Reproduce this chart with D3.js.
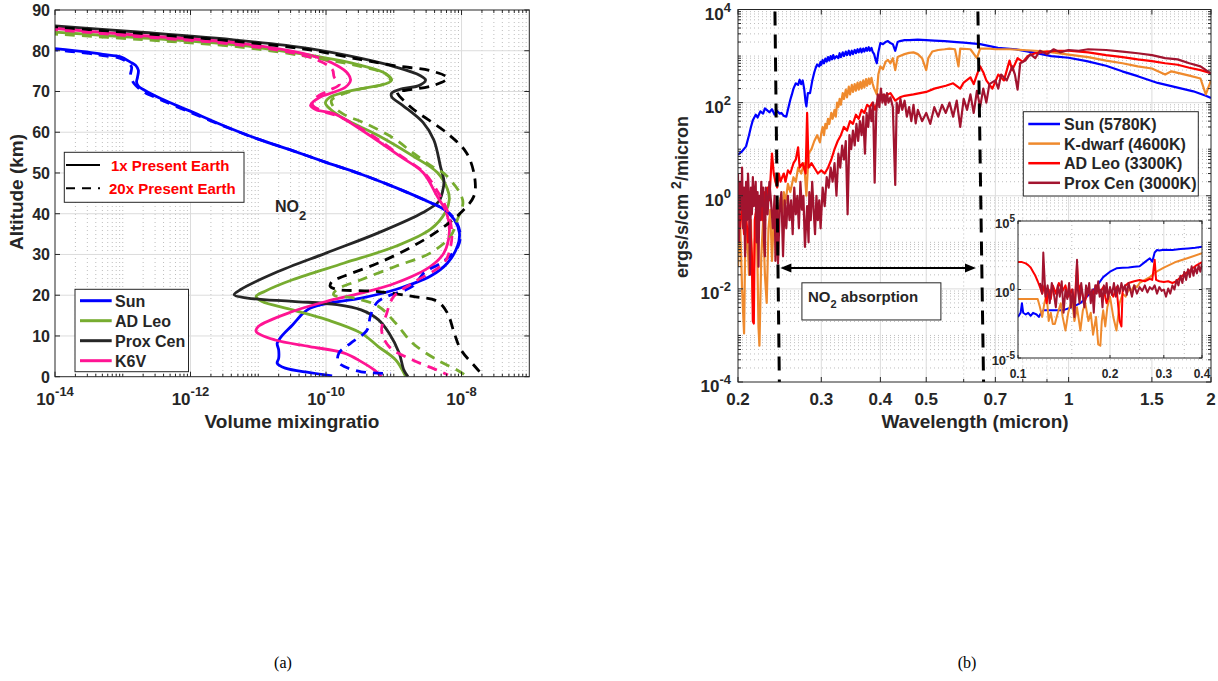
<!DOCTYPE html>
<html><head><meta charset="utf-8">
<script src="https://cdn.jsdelivr.net/npm/d3@7"></script>
<style>
body{margin:0;background:#fff}
text{font-family:"Liberation Sans",Arial,sans-serif;font-weight:bold;fill:#262626}
</style></head>
<body><svg id="c" width="1218" height="681"></svg>
<script>
// ---------------- LEFT PANEL DATA (altitude km, NO2 volume mixing ratio) ----------------
const sunSolidAlt=[80.7,79.7,79.1,78.5,77.2,76.4,75.2,73.5,72.3,71.3,70.3,68.2,65.3,61.6,58.3,55.5,52.6,49.7,46.4,42.7,41.1,38.6,35.3,32.0,27.9,24.7,21.4,19.3,18.1,16.8,15.6,12.7,9.9,8.2,6.6,4.5,3.3,2.1,1.0,0.2];
const sunSolidVmr=[7.9e-15,2.9e-14,5.1e-14,9.3e-14,1.3e-13,1.55e-13,1.7e-13,1.65e-13,1.6e-13,1.7e-13,2.1e-13,3.7e-13,9.5e-13,3.1e-12,1.0e-11,3.2e-11,1.0e-10,3.3e-10,1.07e-9,3.5e-9,5.5e-9,7.8e-9,9.3e-9,8.7e-9,6.2e-9,3.5e-9,1.07e-9,3.3e-10,1.15e-10,5.8e-11,4.6e-11,3.2e-11,2.2e-11,1.9e-11,2.0e-11,2.0e-11,1.9e-11,2.5e-11,5.8e-11,1.23e-10];
const sunDashAlt=[80.4,79.4,78.8,78.2,77.0,76.0,74.0,72.5,71.5,70.0,68.0,65.0,61.5,58.3,55.5,52.6,49.7,46.4,42.7,41.1,38.6,35.3,32.0,28.3,25.5,22.2,18.5,14.8,12.0,10.7,8.2,5.8,3.7,2.5,1.2,0.8];
const sunDashVmr=[7.9e-15,2.9e-14,5.1e-14,9.0e-14,1.2e-13,1.35e-13,1.3e-13,1.4e-13,1.55e-13,2.0e-13,3.6e-13,9.5e-13,3.1e-12,1.0e-11,3.2e-11,1.0e-10,3.3e-10,1.07e-9,3.5e-9,5.6e-9,8.0e-9,9.5e-9,8.9e-9,5.4e-9,2.8e-9,1.9e-9,5.9e-10,4.5e-10,4.2e-10,3.7e-10,2.3e-10,1.55e-10,1.5e-10,1.86e-10,3.3e-10,8.9e-10];
const adLeoSolidAlt=[84.7,83.2,81.3,78.9,76.4,74.4,72.8,71.9,70.7,69.8,68.6,67.2,65.7,63.3,59.2,54.2,50.1,46.0,43.5,40.3,36.2,32.0,27.9,23.8,21.0,19.7,18.5,16.4,14.0,10.7,7.4,4.1,0];
const adLeoSolidVmr=[7.9e-15,1.66e-13,5.5e-12,5.75e-11,3.3e-10,7.6e-10,9.3e-10,7.6e-10,3.3e-10,1.86e-10,1.15e-10,9.8e-11,1.15e-10,1.86e-10,5.9e-10,1.9e-9,4.4e-9,6.2e-9,6.6e-9,5.75e-9,3.5e-9,1.07e-9,1.86e-10,3.2e-11,1.26e-11,9.3e-12,1.12e-11,3.2e-11,1.02e-10,3.3e-10,5.9e-10,1.07e-9,1.5e-9];
const adLeoDashAlt=[84.2,82.8,80.9,78.5,76.1,74.3,73.0,71.8,70.4,69.2,67.8,66.5,64.5,62.0,58.5,55.0,51.2,49.9,47.0,45.0,42.7,38.6,34.5,30.4,27.1,23.8,21.4,20.1,19.3,17.3,13.1,8.2,4.1,1.6,0];
const adLeoDashVmr=[7.9e-15,1.66e-13,5.5e-12,5.75e-11,3.3e-10,7.6e-10,8.9e-10,7.1e-10,2.8e-10,1.66e-10,1.2e-10,1.26e-10,1.78e-10,4.0e-10,1.0e-9,1.9e-9,4.0e-9,5.5e-9,7.9e-9,9.5e-9,1.05e-8,8.7e-9,6.9e-9,3.5e-9,1.07e-9,3.3e-10,1.45e-10,1.29e-10,2.6e-10,5.9e-10,1.07e-9,1.9e-9,4.4e-9,8.7e-9,1.23e-8];
const proxSolidAlt=[86.2,84.6,82.5,80.5,78.1,76.0,74.0,72.8,71.5,70.7,69.6,68.7,66.6,62.4,58.1,51.5,48.0,45.5,43.0,40.3,35.3,30.4,25.5,21.4,20.1,19.3,18.5,17.7,16.4,14.0,10.7,5.8,1.6,0];
const proxSolidVmr=[7.9e-15,1.66e-13,5.5e-12,5.75e-11,3.3e-10,1.07e-9,2.4e-9,2.95e-9,2.4e-9,1.35e-9,9.3e-10,9.3e-10,1.35e-9,2.7e-9,3.9e-9,4.9e-9,5.5e-9,5.25e-9,4.6e-9,2.7e-9,5.9e-10,1.02e-10,1.78e-11,5.5e-12,4.4e-12,6.9e-12,3.2e-11,1.45e-10,3.3e-10,5.9e-10,8.5e-10,1.2e-9,1.41e-9,1.62e-9];
const proxDashAlt=[85.9,84.3,82.2,80.2,77.8,76.3,75.1,73.3,71.5,70.3,70.0,66.3,59.7,54.8,48.3,44.2,40.3,36.2,32.0,27.9,24.7,23.4,22.2,21.5,20.9,19.7,18.5,15.6,10.7,6.6,2.5,0.2];
const proxDashVmr=[7.9e-15,1.66e-13,5.5e-12,5.75e-11,3.3e-10,1.07e-9,3.5e-9,6.2e-9,3.9e-9,1.5e-9,1.12e-9,1.74e-9,6.2e-9,1.2e-8,1.58e-8,1.51e-8,9.8e-9,4.9e-9,1.9e-9,5.9e-10,1.86e-10,1.23e-10,1.15e-10,1.38e-10,5.9e-10,1.9e-9,4.4e-9,6.2e-9,7.8e-9,9.8e-9,1.58e-8,2.1e-8];
const k6vSolidAlt=[85.6,83.8,81.8,78.9,76.4,74.4,72.8,71.1,69.8,68.6,66.6,65.5,64.6,59.7,54.0,50.1,44.2,40.3,35.3,30.4,27.1,23.0,20.5,18.5,16.0,12.3,11.1,9.0,7.4,5.8,3.7,1.6,0];
const k6vSolidVmr=[7.9e-15,1.66e-13,5.5e-12,5.75e-11,1.45e-10,2.1e-10,2.3e-10,1.95e-10,1.29e-10,8.1e-11,5.9e-11,7.1e-11,1.29e-10,4.0e-10,1.26e-9,2.7e-9,4.4e-9,6.0e-9,6.6e-9,5.5e-9,3.5e-9,1.07e-9,3.3e-10,1.02e-10,3.2e-11,1.0e-11,9.3e-12,1.78e-11,5.75e-11,1.86e-10,3.3e-10,5.2e-10,6.6e-10];
const k6vDashAlt=[85.3,83.5,81.4,78.4,75.5,73.5,71.8,70.3,68.5,66.8,65.2,63.8,59.5,54.0,50.1,45.0,40.3,35.3,32.0,27.9,23.0,19.7,14.8,11.5,7.4,4.1,1.6,0.4];
const k6vDashVmr=[7.9e-15,1.66e-13,5.5e-12,5.75e-11,1.23e-10,1.32e-10,1.58e-10,1.12e-10,7.1e-11,6.3e-11,8.9e-11,1.58e-10,4.5e-10,1.32e-9,2.8e-9,4.6e-9,6.3e-9,7.2e-9,6.9e-9,5.5e-9,1.9e-9,1.0e-9,7.6e-10,6.6e-10,8.5e-10,1.9e-9,4.4e-9,6.3e-9];

const starNamesLeft=["Sun","AD Leo","Prox Cen","K6V"];
const leftXTickExp=[-14,-12,-10,-8];
const leftYTicks=[0,10,20,30,40,50,60,70,80,90];
const scenarioLabels=["1x Present Earth","20x Present Earth"];

// ---------------- RIGHT PANEL DATA (wavelength micron, flux ergs/s/cm2/micron) ----------------
const sunWl=[0.200,0.204,0.208,0.211,0.213,0.215,0.218,0.220,0.223,0.226,0.228,0.230,0.233,0.236,0.239,0.242,0.245,0.247,0.250,0.253,0.255,0.258,0.260,0.262,0.265,0.268,0.270,0.272,0.274,0.276,0.278,0.279,0.281,0.284,0.287,0.290,0.292,0.294,
0.297,0.299,0.300,0.302,0.304,0.306,0.308,0.310,0.312,0.314,0.316,0.318,0.320,0.323,0.326,0.328,0.330,0.333,0.335,0.338,0.340,0.343,0.345,0.348,0.350,0.353,0.355,0.358,0.360,0.363,0.365,0.368,0.370,0.373,0.375,0.378,0.380,0.383,0.385,0.388,0.390,
0.393,0.396,0.400,0.405,0.410,0.415,0.420,0.425,0.430,0.435,0.440,0.450,0.460,0.480,0.500,0.520,0.547,0.580,0.600,0.650,0.709,0.773,0.850,0.919,1.000,1.092,1.200,1.298,1.400,1.543,1.700,1.835,1.950,2.000];
const sunFlux=[7.6,9,11.5,20,30,42,55,48,65,58,75,70,62,72,55,66,58,60,52,50,70,115,150,200,260,240,310,250,300,200,100,83,160,160,290,450,560,660,
600,750,650,820,700,880,760,950,800,1000,850,1050,880,1000,900,1150,950,1200,1000,1250,1050,1300,1050,1300,1100,1350,1150,1400,1200,1450,1200,1450,1250,1500,1300,1550,1300,1500,1250,1100,900,
700,1200,1900,1800,2000,2100,1900,1800,1300,2000,2100,2200,2200,2250,2200,2150,2100,2000,1950,1800,1500,1400,1170,1000,920,780,620,470,370,265,210,175,140,126];
const kWl=[0.200,0.202,0.204,0.206,0.207,0.209,0.211,0.213,0.215,0.217,0.219,0.221,0.222,0.224,0.226,0.228,0.230,0.232,0.234,0.236,0.238,0.240,0.242,0.244,0.246,0.248,0.250,0.252,0.255,0.258,0.262,0.265,0.268,0.272,0.276,0.279,0.282,0.286,0.290,0.294,
0.298,0.300,0.302,0.304,0.306,0.308,0.310,0.312,0.315,0.317,0.320,0.322,0.324,0.326,0.328,0.330,0.333,0.335,0.338,0.340,0.343,0.345,0.348,0.350,0.353,0.355,0.358,0.360,0.363,0.365,0.368,0.370,0.373,0.375,0.378,0.380,0.383,0.385,0.388,0.390,
0.393,0.396,0.400,0.405,0.410,0.415,0.420,0.425,0.430,0.435,0.440,0.450,0.460,0.470,0.480,0.490,0.500,0.505,0.515,0.530,0.547,0.560,0.575,0.585,0.590,0.620,0.640,0.650,0.680,0.700,0.750,0.800,0.850,0.900,1.000,1.100,1.200,1.300,1.400,1.500,1.600,1.650,1.800,1.900,1.950,2.000];
const kFlux=[0.03,0.3,0.01,0.0011,0.05,0.2,0.02,0.3,0.005,0.1,0.4,0.0015,0.0006,0.05,0.3,0.02,0.005,0.2,0.5,0.04,0.3,0.6,0.15,0.5,0.9,0.4,1.2,0.7,1.8,1.2,2.5,2,4,3,5,1,8,10,15,20,
14,22,30,20,35,28,45,35,60,45,70,50,100,80,120,90,160,120,190,130,220,150,240,170,250,180,270,190,280,200,300,210,320,230,330,250,340,260,200,180,
150,400,600,520,750,830,700,900,500,950,1000,1100,1170,1200,1100,900,500,900,1250,1350,1400,1450,1400,600,1450,1400,900,1450,1450,1400,1400,1350,1300,1250,1070,950,800,700,600,540,400,470,380,330,150,300];
const adLeoWl=[0.200,0.202,0.204,0.206,0.208,0.210,0.212,0.214,0.215,0.216,0.217,0.219,0.221,0.223,0.225,0.227,0.229,0.231,0.233,0.235,0.236,0.238,0.240,0.242,0.244,0.246,0.248,0.250,0.252,0.255,0.258,0.262,0.265,0.268,0.270,0.274,0.278,0.280,0.282,0.286,0.290,0.295,0.300,0.305,0.310,0.315,0.320,0.325,0.330,0.335,0.340,0.345,0.350,0.355,0.360,0.365,0.370,0.375,0.380,0.385,0.390,0.395,0.400,0.410,0.420,0.430,0.440,0.450,0.470,0.500,0.520,0.550,0.570,0.590,0.600,0.620,0.630,0.640,0.650,0.660,0.670,0.690,0.710,0.730,0.750,0.760,0.780,0.800,0.820,0.850,0.900,0.950,1.000,1.100,1.200,1.300,1.400,1.500,1.600,1.700,1.800,1.900,2.000];
const adLeoFlux=[0.5,0.2,0.6,0.15,0.4,0.1,0.3,0.05,0.002,0.0018,0.3,0.6,0.2,0.8,0.3,1.2,0.5,1.5,0.8,4,8,3,2,1.5,3,2,2.5,3,2,3.5,3,5,6,11,4,5,3,60,4,5,4,3,3.5,3,4,6,10,15,20,30,25,40,35,55,45,70,60,90,80,100,70,120,150,140,160,110,130,140,150,170,200,230,260,200,270,350,250,400,600,450,300,200,400,300,800,500,900,750,1000,1150,1250,1300,1300,1200,1050,950,850,780,700,650,560,500,430];
const proxWl=[0.200,0.201,0.202,0.203,0.204,0.205,0.206,0.207,0.208,0.209,0.210,0.211,0.212,0.213,0.214,0.215,0.216,0.218,0.219,0.220,0.221,0.222,0.223,0.224,0.225,0.226,0.227,0.228,0.229,0.231,0.233,0.235,0.237,0.239,0.240,0.242,0.243,0.245,0.247,0.249,0.251,0.253,0.255,0.257,0.259,0.261,0.263,0.265,0.267,0.269,0.271,0.273,0.275,0.277,0.280,0.282,0.283,0.285,0.287,0.289,0.291,0.293,0.295,0.297,0.299,0.302,0.305,0.308,0.311,0.314,0.317,0.320,0.323,0.326,0.329,0.332,0.335,0.338,0.341,0.344,0.347,0.350,0.353,0.356,0.359,0.362,0.365,0.368,0.371,0.374,0.377,0.380,0.383,0.386,0.389,0.392,0.395,0.398,0.401,0.404,0.407,0.410,0.413,0.416,0.420,0.425,0.430,0.433,0.437,0.441,0.445,0.450,0.455,0.460,0.465,0.470,0.475,0.480,0.490,0.500,0.510,0.520,0.530,0.540,0.550,0.560,0.570,0.580,0.590,0.600,0.610,0.620,0.630,0.640,0.650,0.660,0.670,0.680,0.700,0.710,0.720,0.740,0.760,0.770,0.780,0.790,0.810,0.830,0.850,0.870,0.900,0.930,0.960,1.000,1.050,1.100,1.200,1.300,1.400,1.500,1.600,1.700,1.800,1.900,2.000];
const proxFlux=[3,0.1,2,0.5,4,0.2,1.5,0.05,2,0.3,3,0.8,0.02,1.5,0.4,2.5,0.6,2,0.1,1.2,0.03,1,0.3,2,0.6,1.5,0.1,0.05,1.5,0.4,2,0.7,0.2,1,0.04,0.8,0.035,0.5,1.2,0.05,0.8,0.2,1,0.3,0.8,0.15,1.5,0.4,1,0.2,2,0.5,1,0.08,0.6,0.1,1.2,0.3,2,0.5,0.15,1,0.3,0.8,0.2,1.5,0.6,2.5,1.5,4,2,5,1,8,4,12,6,15,0.4,20,10,25,12,35,15,40,20,50,8,60,30,80,40,100,1.9,60,150,80,200,100,150,90,160,100,130,80,1.7,100,60,120,70,110,50,80,40,90,36,70,40,60,35,80,50,90,60,100,50,110,30,120,70,150,60,180,80,200,100,250,300,200,400,300,600,400,190,700,800,1100,900,1300,1100,1400,1200,1350,1300,1400,1350,1250,1150,1050,900,850,700,600,420];

// inset (UV)
const insetSunWl=[0.100,0.102,0.103,0.104,0.106,0.108,0.110,0.112,0.115,0.117,0.119,0.121,0.125,0.130,0.140,0.150,0.160,0.170,0.180,0.190,0.200,0.210,0.220,0.230,0.240,0.250,0.260,0.270,0.275,0.280,0.285,0.290,0.300,0.320,0.340,0.360,0.380,0.400];
const insetSunFlux=[0.01,0.02,0.1,0.02,0.015,0.02,0.012,0.02,0.015,0.01,0.02,0.03,0.03,0.03,0.03,0.05,0.1,0.4,1.5,8,20,35,38,40,45,50,100,190,107,500,760,700,800,760,900,1000,1100,1300];
const insetKWl=[0.100,0.110,0.116,0.118,0.120,0.122,0.124,0.126,0.128,0.130,0.132,0.135,0.138,0.140,0.143,0.146,0.150,0.153,0.156,0.160,0.163,0.166,0.170,0.173,0.176,0.180,0.183,0.186,0.188,0.190,0.193,0.196,0.200,0.205,0.210,0.215,0.220,0.225,0.230,0.235,0.240,0.245,0.250,0.260,0.270,0.284,0.300,0.330,0.360,0.400];
const insetKFlux=[0.2,0.2,0.2,0.05,0.01,0.1,0.5,0.005,0.02,0.003,0.003,0.02,0.1,0.01,0.001,0.02,0.2,0.005,0.05,0.001,0.03,0.1,0.005,0.02,0.0005,0.01,0.0001,0.00008,0.005,0.03,0.002,0.05,0.3,0.01,0.001,0.1,0.5,0.3,1,0.8,2,1.5,3,5,8,20,40,107,200,440];
const insetAdLeoWl=[0.100,0.103,0.106,0.108,0.110,0.112,0.114,0.116,0.118,0.120,0.122,0.124,0.126,0.128,0.130,0.133,0.136,0.140,0.143,0.146,0.150,0.153,0.156,0.158,0.160,0.165,0.170,0.175,0.180,0.185,0.190,0.195,0.200,0.205,0.210,0.215,0.218,0.220,0.225,0.230,0.240,0.250,0.260,0.270,0.275,0.280,0.283,0.290,0.300,0.310,0.320,0.330,0.340,0.360,0.380,0.400];
const insetAdLeoFlux=[100,100,80,60,40,20,10,4,1.5,0.5,2,0.1,1,0.2,2,0.5,3,0.8,2,0.3,1,0.05,80,0.5,2,0.1,1,0.3,2,0.5,1.5,0.1,1,0.3,1.5,0.005,0.002,1,2,3,4,5,4,6,5,150,5,4,3.5,4,3,4,8,20,50,100];
const insetProxWl=[0.118,0.120,0.121,0.123,0.125,0.127,0.129,0.131,0.133,0.135,0.137,0.139,0.141,0.143,0.145,0.147,0.149,0.151,0.153,0.155,0.156,0.157,0.159,0.161,0.163,0.165,0.167,0.169,0.171,0.173,0.175,0.177,0.179,0.181,0.183,0.185,0.187,0.189,0.191,0.193,0.195,0.197,0.200,0.203,0.206,0.209,0.212,0.215,0.218,0.221,0.224,0.227,0.230,0.233,0.236,0.240,0.245,0.250,0.255,0.260,0.265,0.270,0.275,0.280,0.285,0.290,0.295,0.300,0.305,0.310,0.315,0.320,0.325,0.330,0.335,0.340,0.345,0.350,0.355,0.360,0.365,0.370,0.375,0.380,0.385,0.390,0.395,0.400];
const insetProxFlux=[3,0.5,500,0.3,2,0.1,3,0.5,0.05,2,0.3,4,0.02,1,0.2,3,0.05,1,0.01,2,150,1,0.1,3,0.3,0.05,2,0.4,3,0.1,1,0.02,2,0.5,4,0.3,1,0.05,2,0.5,3,0.2,1.5,0.4,3,0.3,2,0.5,3,0.8,2,0.4,3,1,0.3,2,0.5,1.5,0.8,2,0.6,1.5,1,2,0.5,1.5,0.8,1,0.3,1.2,0.5,2,1,5,2,10,3,20,5,30,8,50,10,40,15,60,20,80];

const starNamesRight=["Sun (5780K)","K-dwarf (4600K)","AD Leo (3300K)","Prox Cen (3000K)"];
const rightXTicks=[0.2,0.3,0.4,0.5,0.7,1,1.5,2];
const rightYTickExp=[-4,-2,0,2,4];
const insetXTicks=[0.1,0.2,0.3,0.4];
const insetYTickExp=[-5,0,5];
// NO2 absorption band edges (top, bottom of dashed guide lines) and arrow level
const bandStartWl=[0.2394,0.2446];
const bandEndWl=[0.643,0.661];
const arrowFlux=0.028;

// ---------------- DRAWING ----------------
const svg=d3.select("#c");
const defs=svg.append("defs");
const AX="#262626", MAJ="#dcdcdc", MIN="#bdbdbd";
function clipRect(id,b){defs.append("clipPath").attr("id",id).append("rect").attr("x",b.x0).attr("y",b.y0).attr("width",b.x1-b.x0).attr("height",b.y1-b.y0);}
function expText(g,x,y,e,fs,ss,anchor,up){
  const t=g.append("text").attr("x",x).attr("y",y).attr("text-anchor",anchor).style("font-size",fs+"px");
  t.append("tspan").text("10");
  t.append("tspan").attr("dy",-up).style("font-size",ss+"px").text(String(e));
  return t;
}

// ===== LEFT =====
const L={x0:55,x1:529.3,y0:10,y1:376.7};
clipRect("clipL",L);
const xL=d3.scaleLog().domain([1e-14,1e-7]).range([L.x0,L.x1]);
const yL=d3.scaleLinear().domain([0,90]).range([L.y1,L.y0]);
const gL=svg.append("g");
const minorL=[];
for(let k=-14;k<-7;k++){for(let m=1;m<10;m++){if(m===1&&leftXTickExp.includes(k))continue;minorL.push(m*Math.pow(10,k));}}
gL.selectAll(".mgx").data(minorL).enter().append("line").attr("x1",d=>xL(d)).attr("x2",d=>xL(d)).attr("y1",L.y0).attr("y2",L.y1).attr("stroke",MIN).attr("stroke-width",1).attr("stroke-dasharray","1,3");
gL.selectAll(".Mgx").data(leftXTickExp.slice(1)).enter().append("line").attr("x1",d=>xL(Math.pow(10,d))).attr("x2",d=>xL(Math.pow(10,d))).attr("y1",L.y0).attr("y2",L.y1).attr("stroke",MAJ);
gL.selectAll(".Mgy").data(leftYTicks.slice(1,-1)).enter().append("line").attr("x1",L.x0).attr("x2",L.x1).attr("y1",d=>yL(d)).attr("y2",d=>yL(d)).attr("stroke",MAJ);

const lineL=d3.line().x(d=>xL(d[1])).y(d=>yL(d[0])).curve(d3.curveCatmullRom.alpha(0.5));
const leftSeries=[
 {alt:sunSolidAlt,v:sunSolidVmr,c:"#0000ff",dash:null},
 {alt:adLeoSolidAlt,v:adLeoSolidVmr,c:"#77ac30",dash:null},
 {alt:proxSolidAlt,v:proxSolidVmr,c:"#262626",dash:null},
 {alt:k6vSolidAlt,v:k6vSolidVmr,c:"#ff1493",dash:null},
 {alt:sunDashAlt,v:sunDashVmr,c:"#0000ff",dash:"10,7"},
 {alt:adLeoDashAlt,v:adLeoDashVmr,c:"#77ac30",dash:"10,7"},
 {alt:proxDashAlt,v:proxDashVmr,c:"#000000",dash:"10,7"},
 {alt:k6vDashAlt,v:k6vDashVmr,c:"#ff1493",dash:"10,7"}
];
const gLc=gL.append("g").attr("clip-path","url(#clipL)");
leftSeries.forEach(s=>{
  const pts=s.alt.map((a,i)=>[a,s.v[i]]);
  gLc.append("path").datum(pts).attr("d",lineL).attr("fill","none").attr("stroke",s.c).attr("stroke-width",2.8).attr("stroke-dasharray",s.dash);
});
gL.append("rect").attr("x",L.x0).attr("y",L.y0).attr("width",L.x1-L.x0).attr("height",L.y1-L.y0).attr("fill","none").attr("stroke",AX).attr("stroke-width",1);
minorL.forEach(v=>{[[L.y1,-3],[L.y0,3]].forEach(([y,d])=>gL.append("line").attr("x1",xL(v)).attr("x2",xL(v)).attr("y1",y).attr("y2",y+d).attr("stroke",AX));});
leftXTickExp.forEach(e=>{const v=Math.pow(10,e);[[L.y1,-5],[L.y0,5]].forEach(([y,d])=>gL.append("line").attr("x1",xL(v)).attr("x2",xL(v)).attr("y1",y).attr("y2",y+d).attr("stroke",AX));
  expText(gL,xL(v),405,e,17,13,"middle",9);});
leftYTicks.forEach(t=>{[[L.x0,5],[L.x1,-5]].forEach(([x,d])=>gL.append("line").attr("x1",x).attr("x2",x+d).attr("y1",yL(t)).attr("y2",yL(t)).attr("stroke",AX));
  gL.append("text").attr("x",50).attr("y",yL(t)+6).attr("text-anchor","end").style("font-size","16px").text(t);});
gL.append("text").attr("x",292).attr("y",428).attr("text-anchor","middle").style("font-size","19px").text("Volume mixingratio");
gL.append("text").attr("transform","translate(23,192) rotate(-90)").attr("text-anchor","middle").style("font-size","19px").text("Altitude (km)");
const no2=gL.append("text").attr("x",275).attr("y",212).style("font-size","16px");
no2.append("tspan").text("NO");no2.append("tspan").attr("dy",8).style("font-size","13px").text("2");
const lg1=gL.append("g");
lg1.append("rect").attr("x",64.3).attr("y",152.3).attr("width",179.7).attr("height",50).attr("fill","#fff").attr("stroke",AX);
[[165,null],[188.3,"9,7"]].forEach(([y,d],i)=>{
  lg1.append("line").attr("x1",66).attr("x2",100).attr("y1",y).attr("y2",y).attr("stroke","#000").attr("stroke-width",2).attr("stroke-dasharray",d);
  lg1.append("text").attr("x",i===0?111:109).attr("y",y+5.5).style("font-size","15px").style("fill","#ff0000").text(scenarioLabels[i]);
});
const lg2=gL.append("g");
lg2.append("rect").attr("x",75).attr("y",289.3).attr("width",113.5).attr("height",82.4).attr("fill","#fff").attr("stroke",AX);
const leftCols=["#0000ff","#77ac30","#262626","#ff1493"];
starNamesLeft.forEach((n,i)=>{const y=300.7+i*20;
  lg2.append("line").attr("x1",80).attr("x2",111.7).attr("y1",y).attr("y2",y).attr("stroke",leftCols[i]).attr("stroke-width",3);
  lg2.append("text").attr("x",115).attr("y",y+6).style("font-size","16px").text(n);});

// ===== RIGHT =====
const R={x0:738,x1:1211,y0:9.5,y1:382};
clipRect("clipR",R);
const xR=d3.scaleLog().domain([0.2,2]).range([R.x0,R.x1]);
const yR=d3.scaleLog().domain([1e-4,1e4]).range([R.y1,R.y0]);
const gR=svg.append("g");
const minorRX=[0.6,0.8,0.9];
const minorRY=[];
for(let k=-4;k<4;k++){for(let m=1;m<10;m++){if(m===1&&rightYTickExp.includes(k))continue;minorRY.push(m*Math.pow(10,k));}}
gR.selectAll(".a").data(minorRX).enter().append("line").attr("x1",d=>xR(d)).attr("x2",d=>xR(d)).attr("y1",R.y0).attr("y2",R.y1).attr("stroke",MIN).attr("stroke-dasharray","1,3");
gR.selectAll(".b").data(minorRY).enter().append("line").attr("x1",R.x0).attr("x2",R.x1).attr("y1",d=>yR(d)).attr("y2",d=>yR(d)).attr("stroke",MIN).attr("stroke-dasharray","1,3");
gR.selectAll(".c").data(rightXTicks.slice(1,-1)).enter().append("line").attr("x1",d=>xR(d)).attr("x2",d=>xR(d)).attr("y1",R.y0).attr("y2",R.y1).attr("stroke",MAJ);
gR.selectAll(".d").data(rightYTickExp.slice(1,-1)).enter().append("line").attr("x1",R.x0).attr("x2",R.x1).attr("y1",d=>yR(Math.pow(10,d))).attr("y2",d=>yR(Math.pow(10,d))).attr("stroke",MAJ);

const lineR=d3.line().x(d=>xR(d[0])).y(d=>yR(d[1]));
const rightCols=["#0000ff","#ef8a2d","#ff0000","#a2142f"];
const rightSeries=[[sunWl,sunFlux],[kWl,kFlux],[adLeoWl,adLeoFlux],[proxWl,proxFlux]];
const gRc=gR.append("g").attr("clip-path","url(#clipR)");
rightSeries.forEach((s,i)=>{
  gRc.append("path").datum(s[0].map((w,j)=>[w,s[1][j]])).attr("d",lineR).attr("fill","none").attr("stroke",rightCols[i]).attr("stroke-width",2.2).attr("stroke-linejoin","round");
});
[bandStartWl,bandEndWl].forEach(b=>{
  gRc.append("line").attr("x1",xR(b[0])).attr("x2",xR(b[1])).attr("y1",R.y0+2).attr("y2",R.y1).attr("stroke","#000").attr("stroke-width",3).attr("stroke-dasharray","14,9");
});
const ax1=xR(bandStartWl[1])+1, ax2=xR(0.637), ay=yR(arrowFlux);
gR.append("line").attr("x1",ax1+8).attr("x2",ax2-8).attr("y1",ay).attr("y2",ay).attr("stroke","#000").attr("stroke-width",2);
gR.append("path").attr("d",`M${ax1},${ay}L${ax1+11},${ay-4.5}L${ax1+11},${ay+4.5}Z`).attr("fill","#000");
gR.append("path").attr("d",`M${ax2},${ay}L${ax2-11},${ay-4.5}L${ax2-11},${ay+4.5}Z`).attr("fill","#000");
const bx0=xR(0.273),bx1=xR(0.537),by0=yR(0.0135),by1=yR(0.00215);
gR.append("rect").attr("x",bx0).attr("y",by0).attr("width",bx1-bx0).attr("height",by1-by0).attr("fill","#fff").attr("stroke",AX);
const t2=gR.append("text").attr("x",bx0+6).attr("y",by0+19).style("font-size","15px");
t2.append("tspan").text("NO");t2.append("tspan").attr("dy",6).style("font-size","11px").text("2");t2.append("tspan").attr("dy",-6).text(" absorption");

gR.append("rect").attr("x",R.x0).attr("y",R.y0).attr("width",R.x1-R.x0).attr("height",R.y1-R.y0).attr("fill","none").attr("stroke",AX);
rightXTicks.forEach(v=>{[[R.y1,-5],[R.y0,5]].forEach(([y,d])=>gR.append("line").attr("x1",xR(v)).attr("x2",xR(v)).attr("y1",y).attr("y2",y+d).attr("stroke",AX));
  gR.append("text").attr("x",xR(v)).attr("y",405).attr("text-anchor","middle").style("font-size","17px").text(String(v));});
minorRX.forEach(v=>{[[R.y1,-3],[R.y0,3]].forEach(([y,d])=>gR.append("line").attr("x1",xR(v)).attr("x2",xR(v)).attr("y1",y).attr("y2",y+d).attr("stroke",AX));});
minorRY.forEach(v=>{[[R.x0,3],[R.x1,-3]].forEach(([x,d])=>gR.append("line").attr("x1",x).attr("x2",x+d).attr("y1",yR(v)).attr("y2",yR(v)).attr("stroke",AX));});
rightYTickExp.forEach(e=>{const v=Math.pow(10,e);[[R.x0,5],[R.x1,-5]].forEach(([x,d])=>gR.append("line").attr("x1",x).attr("x2",x+d).attr("y1",yR(v)).attr("y2",yR(v)).attr("stroke",AX));
  expText(gR,731,yR(v)+10,e,17,13,"end",8);});
gR.append("text").attr("x",975).attr("y",428).attr("text-anchor","middle").style("font-size","19px").text("Wavelength (micron)");
const yl=gR.append("text").attr("transform","translate(688,197) rotate(-90)").attr("text-anchor","middle").style("font-size","18px");
yl.append("tspan").text("ergs/s/cm ");yl.append("tspan").attr("dy",-7).style("font-size","14px").text("2");yl.append("tspan").attr("dy",7).text("/micron");

const lg3=gR.append("g");
lg3.append("rect").attr("x",1023.3).attr("y",111.7).attr("width",175).attr("height",84.3).attr("fill","#fff").attr("stroke",AX);
starNamesRight.forEach((n,i)=>{const y=124+i*19.6;
  lg3.append("line").attr("x1",1028.3).attr("x2",1060).attr("y1",y).attr("y2",y).attr("stroke",rightCols[i]).attr("stroke-width",2.5);
  lg3.append("text").attr("x",1064).attr("y",y+6).style("font-size","16px").text(n);});

// ===== INSET =====
const I={x0:1018,x1:1202,y0:221,y1:358};
clipRect("clipI",I);
const xI=d3.scaleLog().domain([0.1,0.4]).range([I.x0,I.x1]);
const yI=d3.scaleLog().domain([1e-5,1e5]).range([I.y1,I.y0]);
const gI=svg.append("g");
gI.append("rect").attr("x",I.x0).attr("y",I.y0).attr("width",I.x1-I.x0).attr("height",I.y1-I.y0).attr("fill","#fff");
const minorIY=[-4,-3,-2,-1,1,2,3,4].map(e=>Math.pow(10,e));
gI.selectAll(".e").data(minorIY).enter().append("line").attr("x1",I.x0).attr("x2",I.x1).attr("y1",d=>yI(d)).attr("y2",d=>yI(d)).attr("stroke",MIN).attr("stroke-dasharray","1,3");
gI.selectAll(".f").data([0.15,0.25,0.35]).enter().append("line").attr("x1",d=>xI(d)).attr("x2",d=>xI(d)).attr("y1",I.y0).attr("y2",I.y1).attr("stroke",MIN).attr("stroke-dasharray","1,3");
gI.selectAll(".g").data([0.2,0.3]).enter().append("line").attr("x1",d=>xI(d)).attr("x2",d=>xI(d)).attr("y1",I.y0).attr("y2",I.y1).attr("stroke",MAJ);
gI.append("line").attr("x1",I.x0).attr("x2",I.x1).attr("y1",yI(1)).attr("y2",yI(1)).attr("stroke",MAJ);
const lineI=d3.line().x(d=>xI(d[0])).y(d=>yI(d[1]));
const insetSeries=[[insetSunWl,insetSunFlux],[insetKWl,insetKFlux],[insetAdLeoWl,insetAdLeoFlux],[insetProxWl,insetProxFlux]];
const gIc=gI.append("g").attr("clip-path","url(#clipI)");
insetSeries.forEach((s,i)=>{
  gIc.append("path").datum(s[0].map((w,j)=>[w,s[1][j]])).attr("d",lineI).attr("fill","none").attr("stroke",rightCols[i]).attr("stroke-width",2).attr("stroke-linejoin","round");
});
gI.append("rect").attr("x",I.x0).attr("y",I.y0).attr("width",I.x1-I.x0).attr("height",I.y1-I.y0).attr("fill","none").attr("stroke",AX);
insetXTicks.forEach(v=>{[[I.y1,-3],[I.y0,3]].forEach(([y,d])=>gI.append("line").attr("x1",xI(v)).attr("x2",xI(v)).attr("y1",y).attr("y2",y+d).attr("stroke",AX));
  gI.append("text").attr("x",xI(v)).attr("y",378).attr("text-anchor","middle").style("font-size","12px").text(String(v));});
insetYTickExp.forEach(e=>{const v=Math.pow(10,e);[[I.x0,3],[I.x1,-3]].forEach(([x,d])=>gI.append("line").attr("x1",x).attr("x2",x+d).attr("y1",yI(v)).attr("y2",yI(v)).attr("stroke",AX));
  expText(gI,1015,yI(v)+7,e,13,10,"end",6);});

svg.append("text").attr("x",283).attr("y",668).attr("text-anchor","middle").style("font-family","'Liberation Serif',serif").style("font-weight","normal").style("font-size","16px").style("fill","#000").text("(a)");
svg.append("text").attr("x",967).attr("y",668).attr("text-anchor","middle").style("font-family","'Liberation Serif',serif").style("font-weight","normal").style("font-size","16px").style("fill","#000").text("(b)");
</script></body></html>
